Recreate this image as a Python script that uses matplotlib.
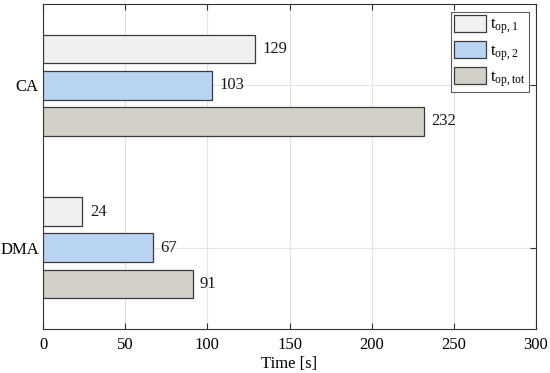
import matplotlib
matplotlib.use("Agg")
import matplotlib.pyplot as plt
import numpy as np

plt.rcParams['font.family'] = ['Liberation Serif', 'DejaVu Serif']
plt.rcParams['mathtext.fontset'] = 'custom'
plt.rcParams['mathtext.rm'] = 'Liberation Serif'
plt.rcParams['mathtext.it'] = 'Liberation Serif'

categories = ["CA", "DMA"]
series_names = [r"$\mathrm{t_{op,1}}$", r"$\mathrm{t_{op,2}}$", r"$\mathrm{t_{op,tot}}$"]
t_op1 = [129, 24]
t_op2 = [103, 67]
t_optot = [232, 91]
series = [t_op1, t_op2, t_optot]
colors = ["#f0f0f0", "#b9d3f2", "#d3d0c8"]
x_ticks = [0, 50, 100, 150, 200, 250, 300]

FS = 12
fig = plt.figure(figsize=(5.5, 3.73), dpi=100)
ax = fig.add_axes([43/550, 1-329/373, (536-43)/550, (329-4)/373])

ypos = np.arange(1, len(categories)+1)
offsets = [-0.222, 0.0, 0.222]
h = 0.176
for vals, off, c, name in zip(series, offsets, colors, series_names):
    bars = ax.barh(ypos + off, vals, height=h, color=c, edgecolor="#3a3a3a",
                   linewidth=0.9, label=name, zorder=3)
    for b, v in zip(bars, vals):
        ax.text(b.get_width() + 4.5, b.get_y() + b.get_height()/2, str(v),
                ha="left", va="center", fontsize=FS, color="#1a1a1a", zorder=4)

ax.set_xlim(0, 300)
ax.set_ylim(2.5, 0.5)
ax.set_xticks(x_ticks)
ax.set_yticks(ypos)
ax.set_yticklabels(categories)
ax.set_xlabel("Time [s]", fontsize=FS, labelpad=2)
ax.tick_params(axis="both", direction="in", top=True, right=True, labelsize=FS,
               length=4, color="#333333", width=0.8)
ax.tick_params(axis="x", pad=6)
ax.tick_params(axis="y", pad=3)
ax.grid(True, color="#e3e3e3", linewidth=0.8, zorder=0)
for s in ax.spines.values():
    s.set_color("#333333")
    s.set_linewidth(0.8)

leg = ax.legend(loc="upper right", fontsize=FS, frameon=True, fancybox=False,
                edgecolor="#333333", handlelength=1.9, handleheight=1.2,
                handletextpad=0.25, borderpad=0.2, labelspacing=0.28,
                borderaxespad=0.45)
leg.get_frame().set_linewidth(0.8)

fig.savefig("out.png", dpi=100)
